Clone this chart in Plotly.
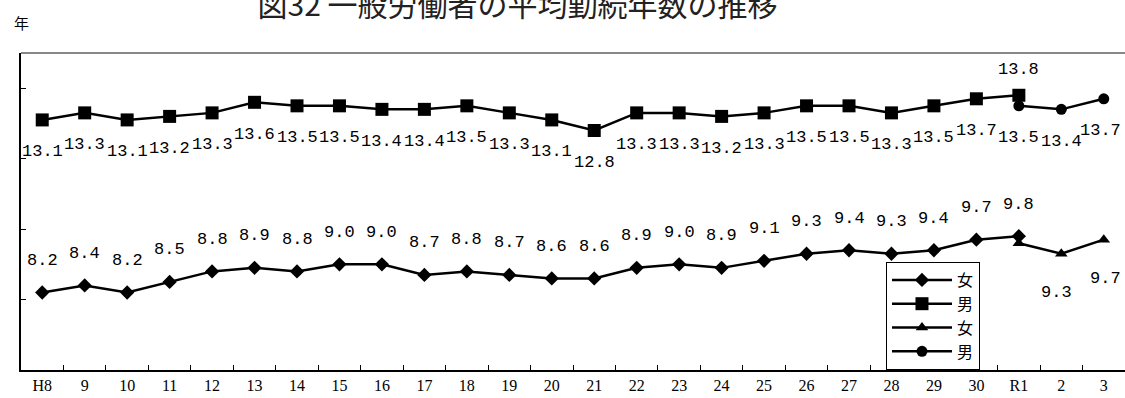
import plotly.graph_objects as go

categories = ["H8", "9", "10", "11", "12", "13", "14", "15", "16", "17", "18", "19", "20",
              "21", "22", "23", "24", "25", "26", "27", "28", "29", "30", "R1", "2", "3"]
old_cats = categories[:24]
new_cats = ["R1", "2", "3"]

women_old = [8.2, 8.4, 8.2, 8.5, 8.8, 8.9, 8.8, 9.0, 9.0, 8.7, 8.8, 8.7, 8.6, 8.6,
             8.9, 9.0, 8.9, 9.1, 9.3, 9.4, 9.3, 9.4, 9.7, 9.8]
men_old = [13.1, 13.3, 13.1, 13.2, 13.3, 13.6, 13.5, 13.5, 13.4, 13.4, 13.5, 13.3, 13.1, 12.8,
           13.3, 13.3, 13.2, 13.3, 13.5, 13.5, 13.3, 13.5, 13.7, 13.8]
women_new = [9.6, 9.3, 9.7]
men_new = [13.5, 13.4, 13.7]
women_new_labeled = [False, True, True]

title_text = "図32 一般労働者の平均勤続年数の推移"
unit_text = "年"

LINE = dict(color="black", width=2.5)
fig = go.Figure()
fig.add_trace(go.Scatter(x=old_cats, y=women_old, name="女", mode="lines+markers",
                         line=LINE, marker=dict(symbol="diamond", size=11, color="black")))
fig.add_trace(go.Scatter(x=old_cats, y=men_old, name="男", mode="lines+markers",
                         line=LINE, marker=dict(symbol="square", size=13, color="black")))
fig.add_trace(go.Scatter(x=new_cats, y=women_new, name="女", mode="lines+markers",
                         line=LINE, marker=dict(symbol="triangle-up", size=11, color="black")))
fig.add_trace(go.Scatter(x=new_cats, y=men_new, name="男", mode="lines+markers",
                         line=LINE, marker=dict(symbol="circle", size=11, color="black")))

def idx(c):
    return categories.index(c)

LBL = dict(family="Liberation Mono", size=17, color="black")
ann = []
for i, (c, v) in enumerate(zip(old_cats, men_old)):
    last = i == len(old_cats) - 1
    ann.append(dict(x=idx(c), y=v, text=f"{v:.1f}", showarrow=False, font=LBL,
                    yshift=26 if last else -32))
for c, v in zip(old_cats, women_old):
    ann.append(dict(x=idx(c), y=v, text=f"{v:.1f}", showarrow=False, font=LBL, yshift=32))
for c, v, show in zip(new_cats, women_new, women_new_labeled):
    if show:
        ann.append(dict(x=idx(c), y=v, text=f"{v:.1f}", showarrow=False, font=LBL,
                        yshift=-39, xshift=2 if c == "3" else -5))
for c, v in zip(new_cats, men_new):
    ann.append(dict(x=idx(c), y=v, text=f"{v:.1f}", showarrow=False, font=LBL,
                    yshift=-32, xshift=-3 if c == "3" else 0))

ann.append(dict(xref="paper", yref="paper", x=0.0, y=1.0, yshift=31,
                text=unit_text, showarrow=False, xanchor="center", yanchor="middle",
                font=dict(family="Noto Sans CJK JP", size=15, color="black")))

fig.update_layout(
    width=1125, height=398,
    margin=dict(l=21, r=0, t=53, b=28),
    paper_bgcolor="white", plot_bgcolor="white",
    title=dict(text=title_text, x=0.46, xanchor="center", y=0.985, yanchor="middle",
               yref="container",
               font=dict(family="Noto Sans CJK JP", size=30, color="#222222")),
    showlegend=True,
    legend=dict(x=0.7835, y=0.3407, xanchor="left", yanchor="top",
                bordercolor="black", borderwidth=1, bgcolor="white",
                font=dict(family="Noto Sans CJK JP", size=16, color="black"),
                tracegroupgap=0, itemwidth=60),
    annotations=ann,
    shapes=[dict(type="line", xref="paper", yref="paper", x0=0, x1=1, y0=1, y1=1,
                 line=dict(color="#888888", width=2))],
)
fig.update_xaxes(type="category", categoryorder="array", categoryarray=categories,
                 range=[-0.5, len(categories) - 0.5],
                 showline=True, linecolor="black", linewidth=2,
                 ticks="inside", tickson="boundaries", ticklen=5, tickcolor="black",
                 showgrid=False, zeroline=False,
                 tickfont=dict(family="Liberation Serif", size=16, color="black"))
fig.update_yaxes(range=[6, 15], tickvals=[8, 10, 12, 14], showticklabels=False,
                 showline=True, linecolor="black", linewidth=2,
                 ticks="inside", ticklen=5, tickcolor="black",
                 showgrid=False, zeroline=False)

fig.write_html("out.html", config={"displayModeBar": False},
               post_script="document.body.style.margin='0';")
